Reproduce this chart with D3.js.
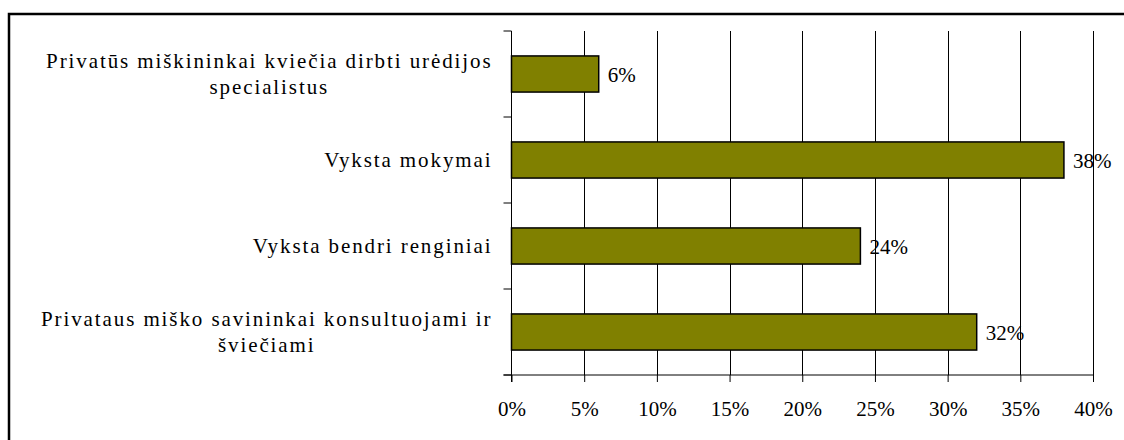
<!DOCTYPE html>
<html>
<head>
    <meta charset="utf-8" />
    <title>Bendradarbiavimas</title>
    <style>
        body { margin: 0; background: #fff; overflow: hidden; }
        svg text { font-family: 'Liberation Serif', 'Times New Roman', serif; fill: #000; }
    </style>
</head>
<body>
    <div id="chart"></div>
    <script src="https://d3js.org/d3.v7.min.js"></script>
    <script>
        // chart data, top to bottom
        var categories = [
            ["Privatūs miškininkai kviečia dirbti urėdijos", "specialistus"],
            ["Vyksta mokymai"],
            ["Vyksta bendri renginiai"],
            ["Privataus miško savininkai konsultuojami ir", "šviečiami"]
        ];
        var values = [6, 38, 24, 32];
        var tickValues = [0, 5, 10, 15, 20, 25, 30, 35, 40];

        var width = 1124, height = 440;
        var margin = { top: 31, left: 511.5, right: 31, bottom: 65 };
        var fontSize = 21;
        var serif = "'Liberation Serif', 'Times New Roman', serif";

        var svg = d3.select("#chart")
            .append("svg")
            .attr("width", width)
            .attr("height", height)
            .attr("font-family", serif);

        // outer frame (right and bottom fall outside the picture)
        svg.append("rect")
            .attr("x", 9)
            .attr("y", 14)
            .attr("width", width + 20)
            .attr("height", height + 20)
            .attr("fill", "none")
            .attr("stroke", "#000")
            .attr("stroke-width", 2.5);

        var x = d3.scaleLinear()
            .domain([0, 40])
            .range([margin.left, width - margin.right]);

        var y = d3.scaleBand()
            .domain(d3.range(categories.length))
            .range([margin.top, height - margin.bottom])
            .paddingInner(0.58)
            .paddingOuter(0.29);

        var step = y.step();
        var y0 = margin.top, y1 = height - margin.bottom;

        // vertical gridlines
        svg.append("g")
            .selectAll("line")
            .data(tickValues.slice(1))
            .join("line")
            .attr("x1", d => Math.round(x(d)) + 0.5)
            .attr("x2", d => Math.round(x(d)) + 0.5)
            .attr("y1", y0)
            .attr("y2", y1)
            .attr("stroke", "#000")
            .attr("stroke-width", 1);

        // bars
        svg.append("g")
            .selectAll("rect")
            .data(values)
            .join("rect")
            .attr("x", x(0))
            .attr("y", (d, i) => y(i))
            .attr("width", d => x(d) - x(0))
            .attr("height", y.bandwidth())
            .attr("fill", "#808000")
            .attr("stroke", "#000")
            .attr("stroke-width", 1.5);

        // value labels
        svg.append("g")
            .selectAll("text")
            .data(values)
            .join("text")
            .attr("x", d => x(d) + 9)
            .attr("y", (d, i) => y(i) + y.bandwidth() / 2 + 1)
            .attr("dy", "0.35em")
            .style("font-size", fontSize + "px")
            .text(d => d + "%");

        // x axis
        var xAxis = d3.axisBottom(x)
            .tickValues(tickValues)
            .tickFormat(d => d + "%")
            .tickSizeInner(7)
            .tickSizeOuter(0)
            .tickPadding(19);
        var gx = svg.append("g")
            .attr("transform", `translate(0,${y1})`)
            .call(xAxis)
            .attr("font-family", serif)
            .attr("font-size", fontSize);
        gx.select(".domain").remove();
        gx.selectAll("line").attr("stroke", "#000");
        svg.append("line")
            .attr("x1", x(0) - 8)
            .attr("x2", x(40) + 0.5)
            .attr("y1", y1)
            .attr("y2", y1)
            .attr("stroke", "#000");

        // y axis line and ticks between categories
        svg.append("line")
            .attr("x1", x(0))
            .attr("x2", x(0))
            .attr("y1", y0)
            .attr("y2", y1 + 7)
            .attr("stroke", "#000");
        svg.append("g")
            .selectAll("line")
            .data(d3.range(categories.length + 1))
            .join("line")
            .attr("x1", x(0) - 8)
            .attr("x2", x(0))
            .attr("y1", i => y0 + i * step)
            .attr("y2", i => y0 + i * step)
            .attr("stroke", "#000");

        // category labels, lines centred on each other, block right-aligned
        var labelRight = x(0) - 19;
        var lineH = 26;
        var labels = svg.append("g")
            .selectAll("g")
            .data(categories)
            .join("g");
        labels.each(function (lines, i) {
            var g = d3.select(this);
            var cy = y(i) + y.bandwidth() / 2;
            var texts = g.selectAll("text")
                .data(lines)
                .join("text")
                .attr("y", (d, j) => cy + (j - (lines.length - 1) / 2) * lineH)
                .attr("dy", "0.35em")
                .attr("text-anchor", "middle")
                .style("font-size", fontSize + "px")
                .style("letter-spacing", "1.9px")
                .text(d => d);
            var maxW = d3.max(texts.nodes(), n => n.getComputedTextLength());
            texts.attr("x", labelRight - maxW / 2);
        });
    </script>
</body>
</html>
